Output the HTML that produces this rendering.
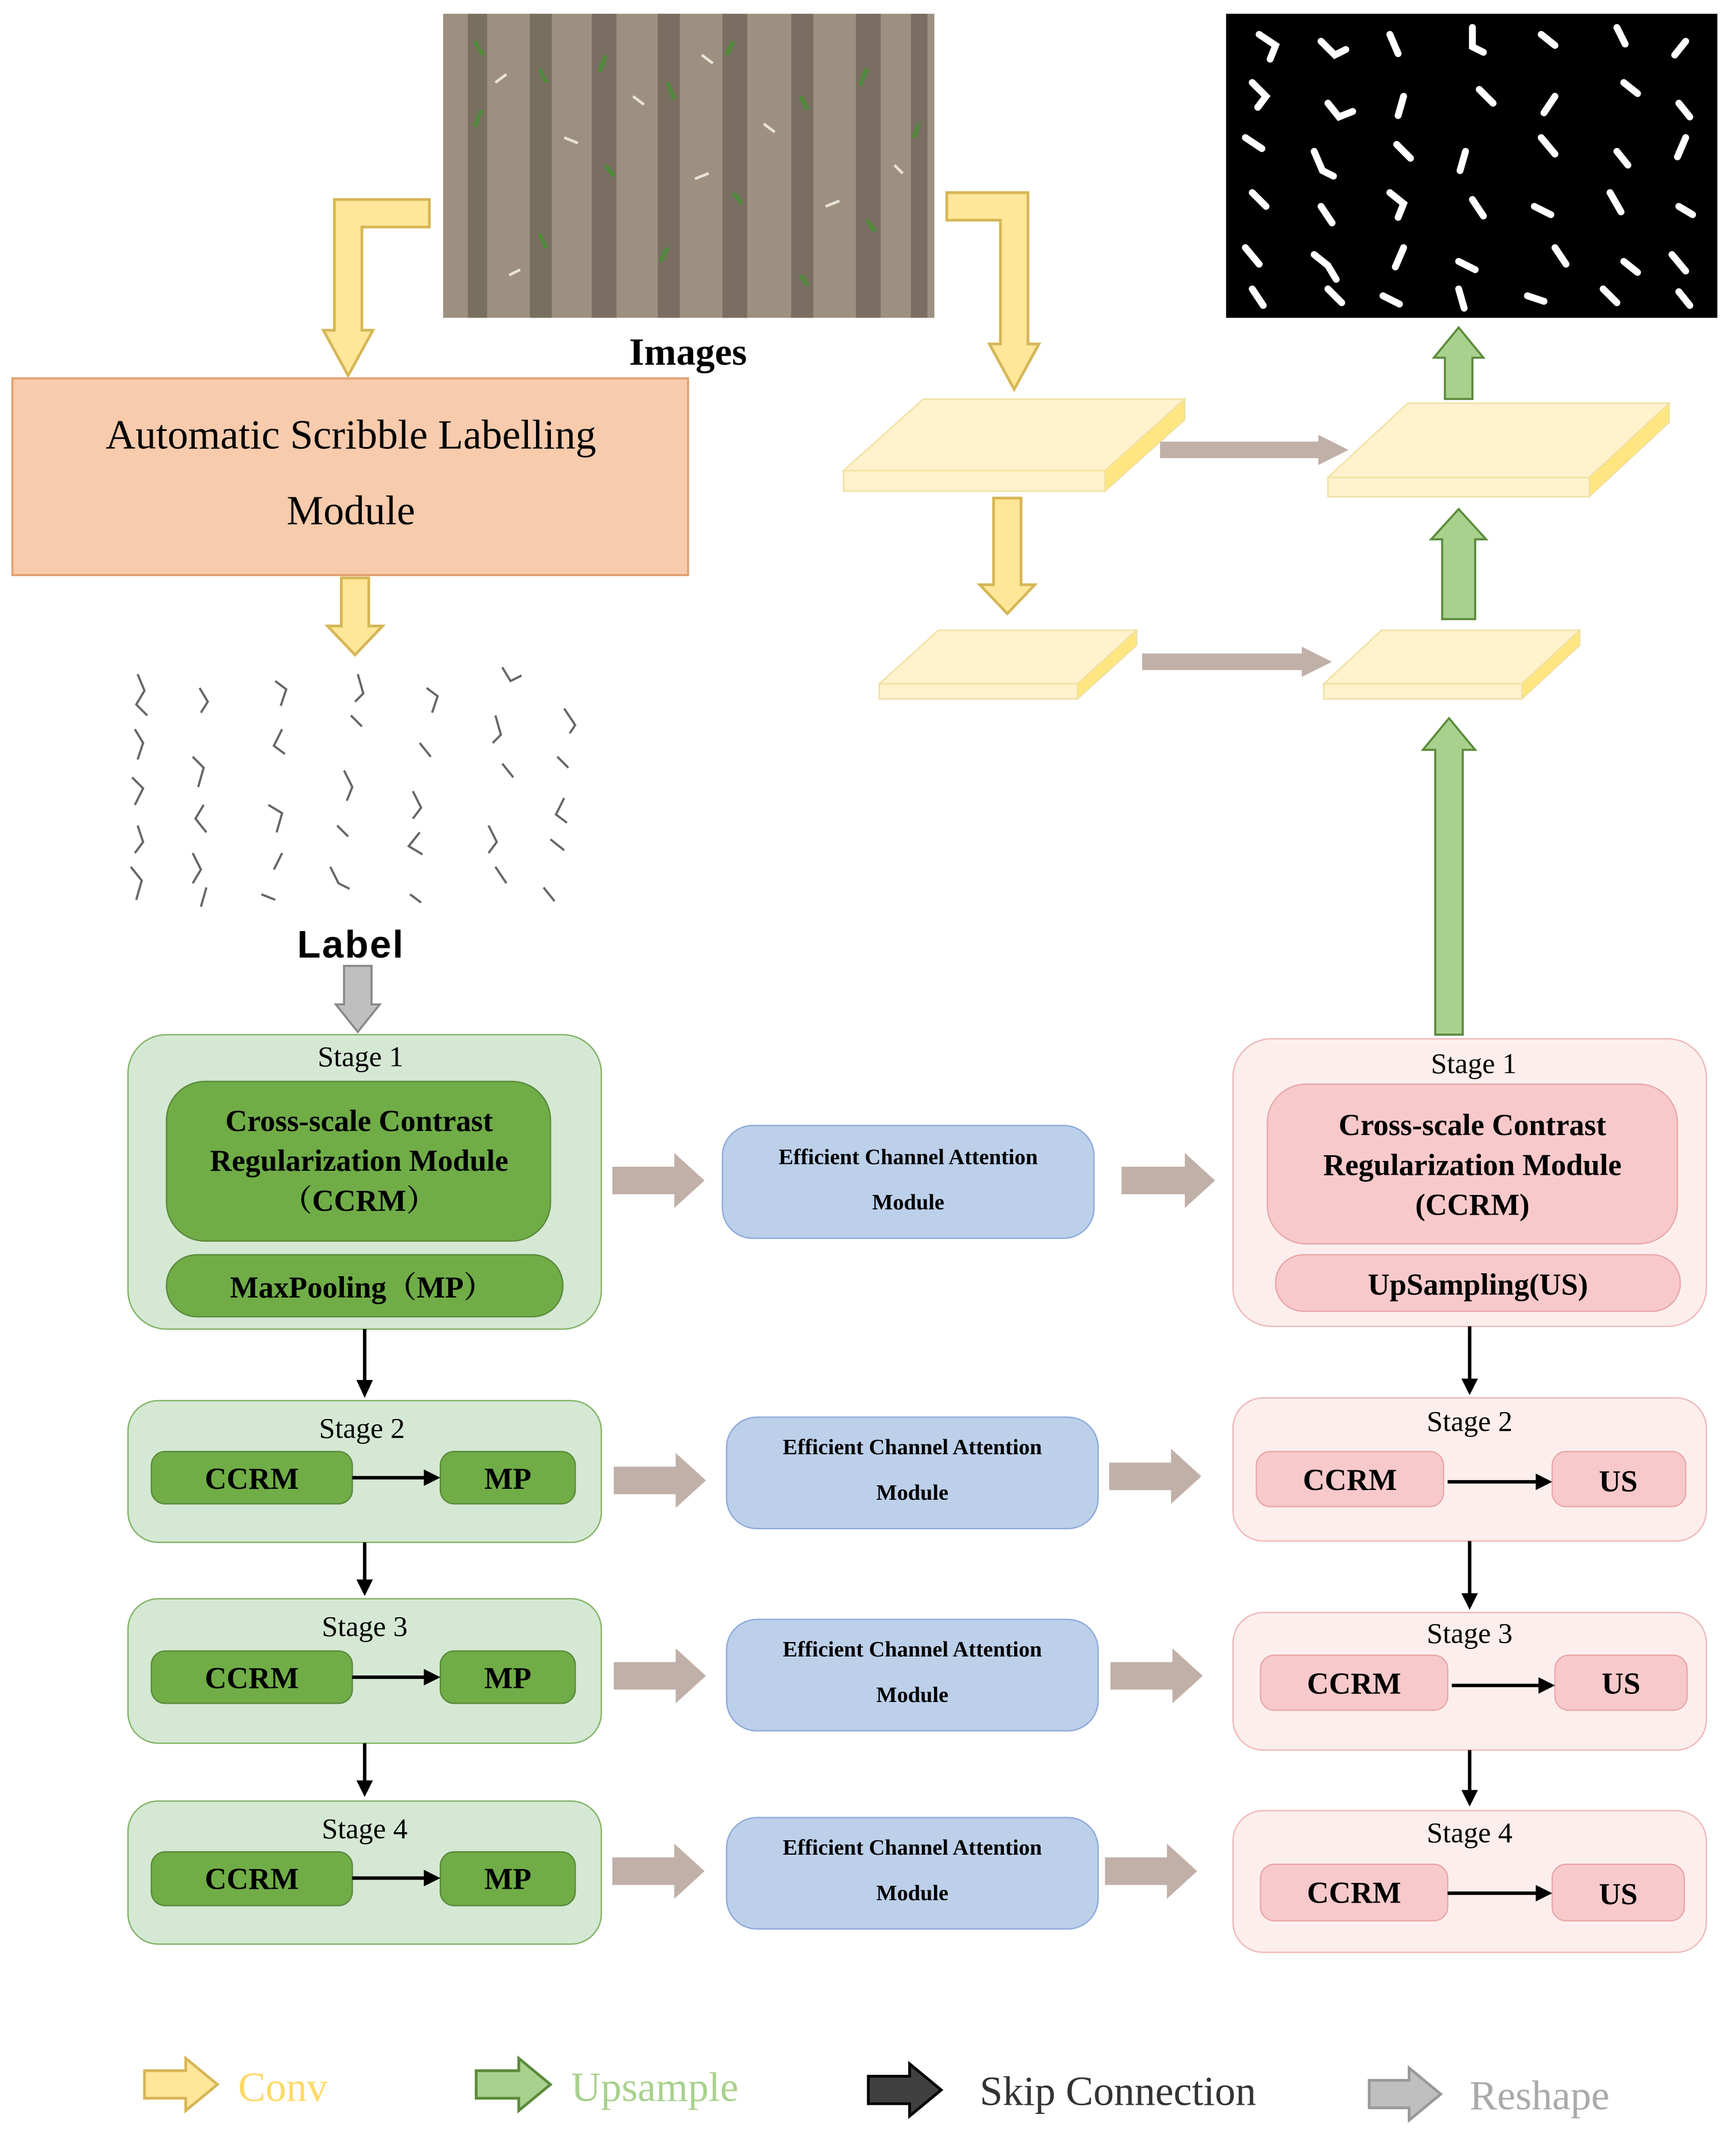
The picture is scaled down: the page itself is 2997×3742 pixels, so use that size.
<!DOCTYPE html>
<html><head><meta charset="utf-8"><style>
html,body{margin:0;padding:0;background:#fff;}
svg{display:block;}
text{font-family:"Liberation Serif","Noto Serif CJK SC",serif;}
</style></head><body>
<svg width="2997" height="3742" viewBox="0 0 1255 1567" xmlns="http://www.w3.org/2000/svg">
<rect width="1255" height="1567" fill="#fff"/>

<!-- field image -->
<rect x="322" y="10" width="357" height="221" fill="#9d9080"/>
<g fill="#4e463c" opacity="0.45">
<rect x="340" y="10" width="14" height="221"/><rect x="385" y="10" width="16" height="221"/>
<rect x="430" y="10" width="18" height="221"/><rect x="478" y="10" width="16" height="221"/>
<rect x="525" y="10" width="18" height="221"/><rect x="575" y="10" width="16" height="221"/>
<rect x="622" y="10" width="18" height="221"/><rect x="662" y="10" width="12" height="221"/>
</g>
<g stroke="#4f8a3a" stroke-width="3" fill="none">
<path d="M345 30l6 10M350 80l-5 12M392 50l5 10M440 40l-4 12M440 120l6 8M485 60l5 12M533 30l-5 10M533 140l6 8M582 70l5 10M630 50l-5 12M630 160l6 8M668 90l-4 10M392 170l5 10M485 180l-5 10M582 200l5 8"/>
</g>
<g stroke="#e8e2d8" stroke-width="2" fill="none">
<path d="M360 60l8 -6M410 100l10 4M460 70l8 6M505 130l10 -4M555 90l8 6M600 150l10 -4M650 120l6 6M370 200l8 -4M510 40l8 6"/>
</g>

<!-- mask image -->
<rect x="891" y="10" width="357" height="221" fill="#000"/>
<g stroke="#fff" stroke-width="5" fill="none" stroke-linecap="round">
<path d="M915 25l12 8l-4 10M960 30l10 10l8-4M1010 25l6 14M1070 20l0 14l8 4M1120 25l10 8M1175 20l6 12M1225 30l-8 10"/>
<path d="M910 60l10 10l-6 8M965 75l8 10l10-4M1020 70l-4 14M1075 65l10 10M1130 70l-8 12M1180 60l10 8M1220 75l8 10"/>
<path d="M905 100l12 8M955 110l6 14l8 4M1015 105l10 10M1065 110l-4 14M1120 100l10 12M1175 110l8 10M1225 100l-6 14"/>
<path d="M910 140l10 10M960 150l8 12M1010 140l10 8l-4 10M1070 145l8 12M1115 150l12 6M1170 140l8 14M1220 150l10 6"/>
<path d="M905 180l10 12M955 185l10 8l6 10M1020 180l-6 14M1060 190l12 6M1130 180l8 12M1180 190l10 8M1215 185l10 12"/>
<path d="M910 210l8 12M965 210l10 10M1005 215l12 6M1060 210l4 14M1110 215l12 4M1165 210l10 10M1220 212l8 10"/>
</g>

<text x="500" y="265" font-size="28" font-weight="bold" text-anchor="middle">Images</text>

<g fill="#ffe699" stroke="#d6b656" stroke-width="2">
<polygon points="312,145 243,145 243,240 235,240 253,273 271,240 263,240 263,165 312,165"/>
<polygon points="688,140 747,140 747,250 755,250 737,283 719,250 727,250 727,160 688,160"/>
<polygon points="248,420 268,420 268,455 278,455 258,476 238,455 248,455"/>
<polygon points="722,362 742,362 742,425 752,425 732,446 712,425 722,425"/>
</g>

<rect x="9" y="275" width="491" height="143" fill="#f8cbad" stroke="#e0a070" stroke-width="1.5"/>
<text x="255" y="326" font-size="30" text-anchor="middle">Automatic Scribble Labelling</text>
<text x="255" y="381" font-size="30" text-anchor="middle">Module</text>

<g stroke="#666" stroke-width="1.6" fill="none">
<path d="M100 490l5 12l-6 10l8 8M98 530l6 10l-4 12M96 565l8 8l-6 12M100 600l4 12l-6 8M95 630l8 10l-4 14"/>
<path d="M145 500l6 10l-5 8M140 550l8 8l-4 14M148 585l-6 10l8 10M140 620l6 12l-6 10M150 645l-4 14"/>
<path d="M200 495l8 6l-4 12M205 530l-6 12l8 6M195 585l10 6l-4 14M205 620l-6 12M190 650l10 4"/>
<path d="M260 490l4 14l-6 6M255 520l8 8M250 560l6 12l-4 10M245 600l8 8M240 630l6 12l8 4"/>
<path d="M310 500l8 6l-4 12M305 540l8 10M300 575l6 12l-6 8M305 605l-8 10l10 6M298 650l8 6"/>
<path d="M365 485l6 10l8-4M360 520l4 14l-6 6M365 555l8 10M355 600l6 12l-6 8M360 630l8 12"/>
<path d="M410 515l8 12l-4 6M405 550l8 8M410 580l-6 12l8 6M400 610l10 8M395 645l8 10"/>
</g>
<text x="255" y="696" font-size="28" font-weight="bold" text-anchor="middle" letter-spacing="1" style="font-family:'Liberation Sans',sans-serif">Label</text>
<polygon points="250,702 270,702 270,730 276,730 260,750 244,730 250,730" fill="#bfbfbf" stroke="#888" stroke-width="1.5"/>

<g fill="#fff2cc" stroke="#f0e0a0" stroke-width="1">
<polygon points="613,342 803,342 861,290 671,290"/>
<rect x="613" y="342" width="190" height="15"/>
<polygon points="803,342 861,290 861,305 803,357" fill="#ffe680"/>
<polygon points="965,347 1155,347 1213,293 1023,293"/>
<rect x="965" y="347" width="190" height="14"/>
<polygon points="1155,347 1213,293 1213,307 1155,361" fill="#ffe680"/>
<polygon points="639,497 783,497 826,458 682,458"/>
<rect x="639" y="497" width="144" height="11"/>
<polygon points="783,497 826,458 826,469 783,508" fill="#ffe680"/>
<polygon points="962,497 1106,497 1148,458 1004,458"/>
<rect x="962" y="497" width="144" height="11"/>
<polygon points="1106,497 1148,458 1148,469 1106,508" fill="#ffe680"/>
</g>
<g fill="#c0b0a8">
<polygon points="843,321 958,321 958,316 980,327 958,338 958,333 843,333"/>
<polygon points="830,475 946,475 946,470 968,481 946,492 946,487 830,487"/>
</g>

<g fill="#a9d18e" stroke="#5a8a3a" stroke-width="1.5">
<polygon points="1043,752 1063,752 1063,545 1072,545 1053,522 1034,545 1043,545"/>
<polygon points="1048,450 1072,450 1072,392 1080,392 1060,370 1040,392 1048,392"/>
<polygon points="1050,290 1070,290 1070,260 1078,260 1060,238 1042,260 1050,260"/>
</g>

<g fill="#d5e8d4" stroke="#82b366" stroke-width="1">
<rect x="93" y="752" width="344" height="214" rx="28"/>
<rect x="93" y="1018" width="344" height="103" rx="22"/>
<rect x="93" y="1162" width="344" height="105" rx="22"/>
<rect x="93" y="1309" width="344" height="104" rx="22"/>
</g>
<g fill="#70ad47" stroke="#5a8a3a" stroke-width="1">
<rect x="121" y="786" width="279" height="116" rx="28"/>
<rect x="121" y="912" width="288" height="45" rx="22"/>
<rect x="110" y="1055" width="146" height="38" rx="10"/><rect x="320" y="1055" width="98" height="38" rx="10"/>
<rect x="110" y="1200" width="146" height="38" rx="10"/><rect x="320" y="1200" width="98" height="38" rx="10"/>
<rect x="110" y="1346" width="146" height="39" rx="10"/><rect x="320" y="1346" width="98" height="39" rx="10"/>
</g>
<g font-size="21" text-anchor="middle">
<text x="262" y="775">Stage 1</text><text x="263" y="1045">Stage 2</text>
<text x="265" y="1189">Stage 3</text><text x="265" y="1336">Stage 4</text>
</g>
<g font-size="22" font-weight="bold" text-anchor="middle">
<text x="261" y="822">Cross-scale Contrast</text>
<text x="261" y="851">Regularization Module</text>
<text x="261" y="880">（CCRM）</text>
<text x="263" y="943">MaxPooling（MP）</text>
<text x="183" y="1082">CCRM</text><text x="369" y="1082">MP</text>
<text x="183" y="1227">CCRM</text><text x="369" y="1227">MP</text>
<text x="183" y="1373">CCRM</text><text x="369" y="1373">MP</text>
</g>

<g fill="#fdeeee" stroke="#f0b8b8" stroke-width="1">
<rect x="896" y="755" width="344" height="209" rx="28"/>
<rect x="896" y="1016" width="344" height="104" rx="22"/>
<rect x="896" y="1172" width="344" height="100" rx="22"/>
<rect x="896" y="1316" width="344" height="103" rx="22"/>
</g>
<g fill="#f8c9cb" stroke="#e8a8a8" stroke-width="1">
<rect x="921" y="788" width="298" height="116" rx="28"/>
<rect x="927" y="912" width="294" height="41" rx="20"/>
<rect x="913" y="1055" width="136" height="40" rx="10"/><rect x="1128" y="1055" width="97" height="40" rx="10"/>
<rect x="916" y="1203" width="136" height="40" rx="10"/><rect x="1130" y="1203" width="96" height="40" rx="10"/>
<rect x="916" y="1355" width="136" height="41" rx="10"/><rect x="1128" y="1355" width="96" height="41" rx="10"/>
</g>
<g font-size="21" text-anchor="middle">
<text x="1071" y="780">Stage 1</text><text x="1068" y="1040">Stage 2</text>
<text x="1068" y="1194">Stage 3</text><text x="1068" y="1339">Stage 4</text>
</g>
<g font-size="22" font-weight="bold" text-anchor="middle">
<text x="1070" y="825">Cross-scale Contrast</text>
<text x="1070" y="854">Regularization Module</text>
<text x="1070" y="883">(CCRM)</text>
<text x="1074" y="941">UpSampling(US)</text>
<text x="981" y="1083">CCRM</text><text x="1176" y="1084">US</text>
<text x="984" y="1231">CCRM</text><text x="1178" y="1231">US</text>
<text x="984" y="1383">CCRM</text><text x="1176" y="1384">US</text>
</g>

<g stroke="#000" stroke-width="2.5" fill="none">
<line x1="256" y1="1074" x2="310" y2="1074"/><line x1="256" y1="1219" x2="310" y2="1219"/><line x1="256" y1="1365" x2="310" y2="1365"/>
<line x1="1052" y1="1077" x2="1118" y2="1077"/><line x1="1055" y1="1225" x2="1120" y2="1225"/><line x1="1052" y1="1376" x2="1118" y2="1376"/>
<line x1="265" y1="966" x2="265" y2="1005"/><line x1="265" y1="1121" x2="265" y2="1150"/><line x1="265" y1="1267" x2="265" y2="1296"/>
<line x1="1068" y1="964" x2="1068" y2="1004"/><line x1="1068" y1="1120" x2="1068" y2="1160"/><line x1="1068" y1="1272" x2="1068" y2="1303"/>
</g>
<g fill="#000">
<polygon points="320,1074 308,1068 308,1080"/><polygon points="320,1219 308,1213 308,1225"/><polygon points="320,1365 308,1359 308,1371"/>
<polygon points="1128,1077 1116,1071 1116,1083"/><polygon points="1130,1225 1118,1219 1118,1231"/><polygon points="1128,1376 1116,1370 1116,1382"/>
<polygon points="265,1016 259,1003 271,1003"/><polygon points="265,1160 259,1148 271,1148"/><polygon points="265,1306 259,1294 271,1294"/>
<polygon points="1068,1014 1062,1002 1074,1002"/><polygon points="1068,1170 1062,1158 1074,1158"/><polygon points="1068,1313 1062,1301 1074,1301"/>
</g>

<g fill="#bdd0ea" stroke="#8eaadb" stroke-width="1">
<rect x="525" y="818" width="270" height="82" rx="22"/>
<rect x="528" y="1030" width="270" height="81" rx="22"/>
<rect x="528" y="1177" width="270" height="81" rx="22"/>
<rect x="528" y="1321" width="270" height="81" rx="22"/>
</g>
<g font-size="16" font-weight="bold" text-anchor="middle">
<text x="660" y="846">Efficient Channel Attention</text><text x="660" y="879">Module</text>
<text x="663" y="1057">Efficient Channel Attention</text><text x="663" y="1090">Module</text>
<text x="663" y="1204">Efficient Channel Attention</text><text x="663" y="1237">Module</text>
<text x="663" y="1348">Efficient Channel Attention</text><text x="663" y="1381">Module</text>
</g>

<g fill="#c0b0a8">
<polygon points="445,848 490,848 490,838 512,858 490,878 490,868 445,868"/>
<polygon points="815,848 861,848 861,838 883,858 861,878 861,868 815,868"/>
<polygon points="446,1066 491,1066 491,1056 513,1076 491,1096 491,1086 446,1086"/>
<polygon points="806,1063 851,1063 851,1053 873,1073 851,1093 851,1083 806,1083"/>
<polygon points="446,1208 491,1208 491,1198 513,1218 491,1238 491,1228 446,1228"/>
<polygon points="807,1208 852,1208 852,1198 874,1218 852,1238 852,1228 807,1228"/>
<polygon points="445,1350 490,1350 490,1340 512,1360 490,1380 490,1370 445,1370"/>
<polygon points="803,1350 848,1350 848,1340 870,1360 848,1380 848,1370 803,1370"/>
</g>

<polygon points="105,1505 135,1505 135,1496 158,1515 135,1534 135,1525 105,1525" fill="#ffe699" stroke="#d6b656" stroke-width="2"/>
<text x="173" y="1527" font-size="30" fill="#ffd966">Conv</text>
<polygon points="346,1505 377,1505 377,1496 400,1515 377,1534 377,1525 346,1525" fill="#a9d18e" stroke="#5a8a3a" stroke-width="2"/>
<text x="415" y="1527" font-size="30" fill="#a9d18e">Upsample</text>
<polygon points="631,1509 661,1509 661,1500 684,1519 661,1538 661,1529 631,1529" fill="#404040" stroke="#000" stroke-width="2"/>
<text x="712" y="1530" font-size="30" fill="#333">Skip Connection</text>
<polygon points="995,1512 1024,1512 1024,1503 1047,1522 1024,1541 1024,1532 995,1532" fill="#bfbfbf" stroke="#999" stroke-width="2"/>
<text x="1068" y="1533" font-size="30" fill="#aaa">Reshape</text>
</svg>
</body></html>
